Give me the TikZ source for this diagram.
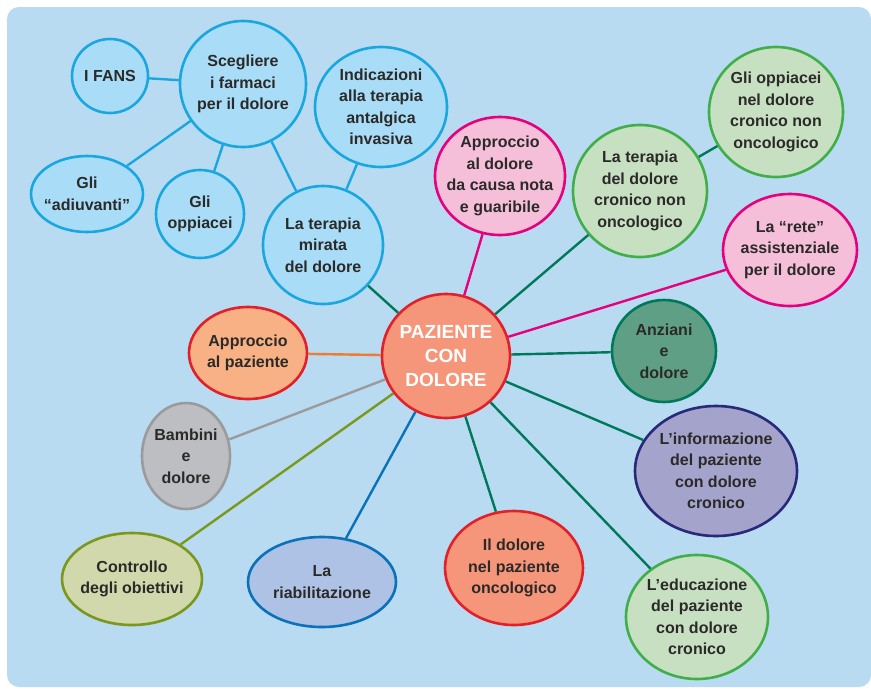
\documentclass[tikz,border=0pt]{standalone}
\usepackage{fontspec}
\setmainfont{Liberation Sans}
\usepackage{xcolor}
\usetikzlibrary{shapes.geometric}

\definecolor{bgblue}{HTML}{B8DBF2}
\definecolor{ink}{HTML}{2B2A29}
\definecolor{cyanfill}{HTML}{A9DDF7}
\definecolor{cyanline}{HTML}{1AA7E0}
\definecolor{pinkfill}{HTML}{F6BFD9}
\definecolor{pinkline}{HTML}{E5007E}
\definecolor{greenfill}{HTML}{C8E0C2}
\definecolor{greenline}{HTML}{40AE49}
\definecolor{darkgreen}{HTML}{00785A}
\definecolor{oldfill}{HTML}{5F9F86}
\definecolor{navyfill}{HTML}{A4A3CB}
\definecolor{navyline}{HTML}{29297A}
\definecolor{salmon}{HTML}{F5967A}
\definecolor{redline}{HTML}{E3202A}
\definecolor{orangefill}{HTML}{F8B184}
\definecolor{orangeline}{HTML}{EF7A30}
\definecolor{greyfill}{HTML}{BDBEC2}
\definecolor{greyline}{HTML}{9B9B9D}
\definecolor{olivefill}{HTML}{D1D8AC}
\definecolor{oliveline}{HTML}{7A981C}
\definecolor{bluefill}{HTML}{ADC2E4}
\definecolor{blueline}{HTML}{0B72B9}

\begin{document}
\begin{tikzpicture}[x=1pt, y=-1pt,
    bubble/.style={ellipse, draw, line width=2.6pt, inner xsep=-14pt, inner ysep=-10pt,
      align=center, text=ink, font=\bfseries\fontsize{16}{21.5}\selectfont},
    size/.style 2 args={minimum width=#1pt, minimum height=#2pt},
    link/.style={line width=2.4pt}]
  % background
  \useasboundingbox (0,0) rectangle (871,689);
  \fill[bgblue, rounded corners=12pt] (7,7) rectangle (871,687);

  % centre
  \node[bubble, size={128}{124}, fill=salmon, draw=redline, text=white,
    font=\bfseries\fontsize{19}{24}\selectfont] (paz) at (446,356) {PAZIENTE\\CON\\DOLORE};

  % blue group
  \node[bubble, size={76}{74}, fill=cyanfill, draw=cyanline] (fans) at (110,76) {I FANS};
  \node[bubble, size={126}{126}, fill=cyanfill, draw=cyanline] (farm) at (243,84) {Scegliere\\i farmaci\\per il dolore};
  \node[bubble, size={112}{76}, fill=cyanfill, draw=cyanline] (adiu) at (87,194) {Gli\\``adiuvanti''};
  \node[bubble, size={88}{88}, fill=cyanfill, draw=cyanline] (oppi) at (200,214) {Gli\\oppiacei};
  \node[bubble, size={132}{120}, fill=cyanfill, draw=cyanline] (inva) at (381,107) {Indicazioni\\alla terapia\\antalgica\\invasiva};
  \node[bubble, size={120}{118}, fill=cyanfill, draw=cyanline] (mira) at (323,245) {La terapia\\mirata\\del dolore};

  % right side
  \node[bubble, size={130}{118}, fill=pinkfill, draw=pinkline] (nota) at (500,176) {Approccio\\al dolore\\da causa nota\\e guaribile};
  \node[bubble, size={134}{132}, fill=greenfill, draw=greenline] (cron) at (640,191) {La terapia\\del dolore\\cronico non\\oncologico};
  \node[bubble, size={134}{130}, fill=greenfill, draw=greenline] (opcr) at (776,112) {Gli oppiacei\\nel dolore\\cronico non\\oncologico};
  \node[bubble, size={134}{112}, fill=pinkfill, draw=pinkline] (rete) at (790,250) {La ``rete''\\assistenziale\\per il dolore};
  \node[bubble, size={104}{102}, fill=oldfill, draw=darkgreen] (anzi) at (664,351) {Anziani\\e\\dolore};
  \node[bubble, size={162}{130}, fill=navyfill, draw=navyline] (info) at (716,471) {L'informazione\\del paziente\\con dolore\\cronico};
  \node[bubble, size={142}{124}, fill=greenfill, draw=greenline] (educ) at (697,617) {L'educazione\\del paziente\\con dolore\\cronico};

  % bottom and left
  \node[bubble, size={138}{114}, fill=salmon, draw=redline] (onco) at (514,568) {Il dolore\\nel paziente\\oncologico};
  \node[bubble, size={148}{90}, fill=bluefill, draw=blueline] (riab) at (322,582) {La\\riabilitazione};
  \node[bubble, size={140}{92}, fill=olivefill, draw=oliveline] (ctrl) at (132,579) {Controllo\\degli obiettivi};
  \node[bubble, size={88}{106}, fill=greyfill, draw=greyline] (bamb) at (186,456) {Bambini\\e\\dolore};
  \node[bubble, size={118}{92}, fill=orangefill, draw=redline] (appr) at (248,353) {Approccio\\al paziente};

  % connectors
  \draw[link, cyanline] (farm) -- (fans);
  \draw[link, cyanline] (farm) -- (adiu);
  \draw[link, cyanline] (farm) -- (oppi);
  \draw[link, cyanline] (farm) -- (mira);
  \draw[link, cyanline] (inva) -- (mira);
  \draw[link, darkgreen] (paz) -- (mira);
  \draw[link, pinkline] (paz) -- (nota);
  \draw[link, darkgreen] (paz) -- (cron);
  \draw[link, darkgreen] (cron) -- (opcr);
  \draw[link, pinkline] (paz) -- (rete);
  \draw[link, darkgreen] (paz) -- (anzi);
  \draw[link, darkgreen] (paz) -- (info);
  \draw[link, darkgreen] (paz) -- (educ);
  \draw[link, darkgreen] (paz) -- (onco);
  \draw[link, blueline] (paz) -- (riab);
  \draw[link, oliveline] (paz) -- (ctrl);
  \draw[link, greyline] (paz) -- (bamb);
  \draw[link, orangeline] (paz) -- (appr);
\end{tikzpicture}
\end{document}
